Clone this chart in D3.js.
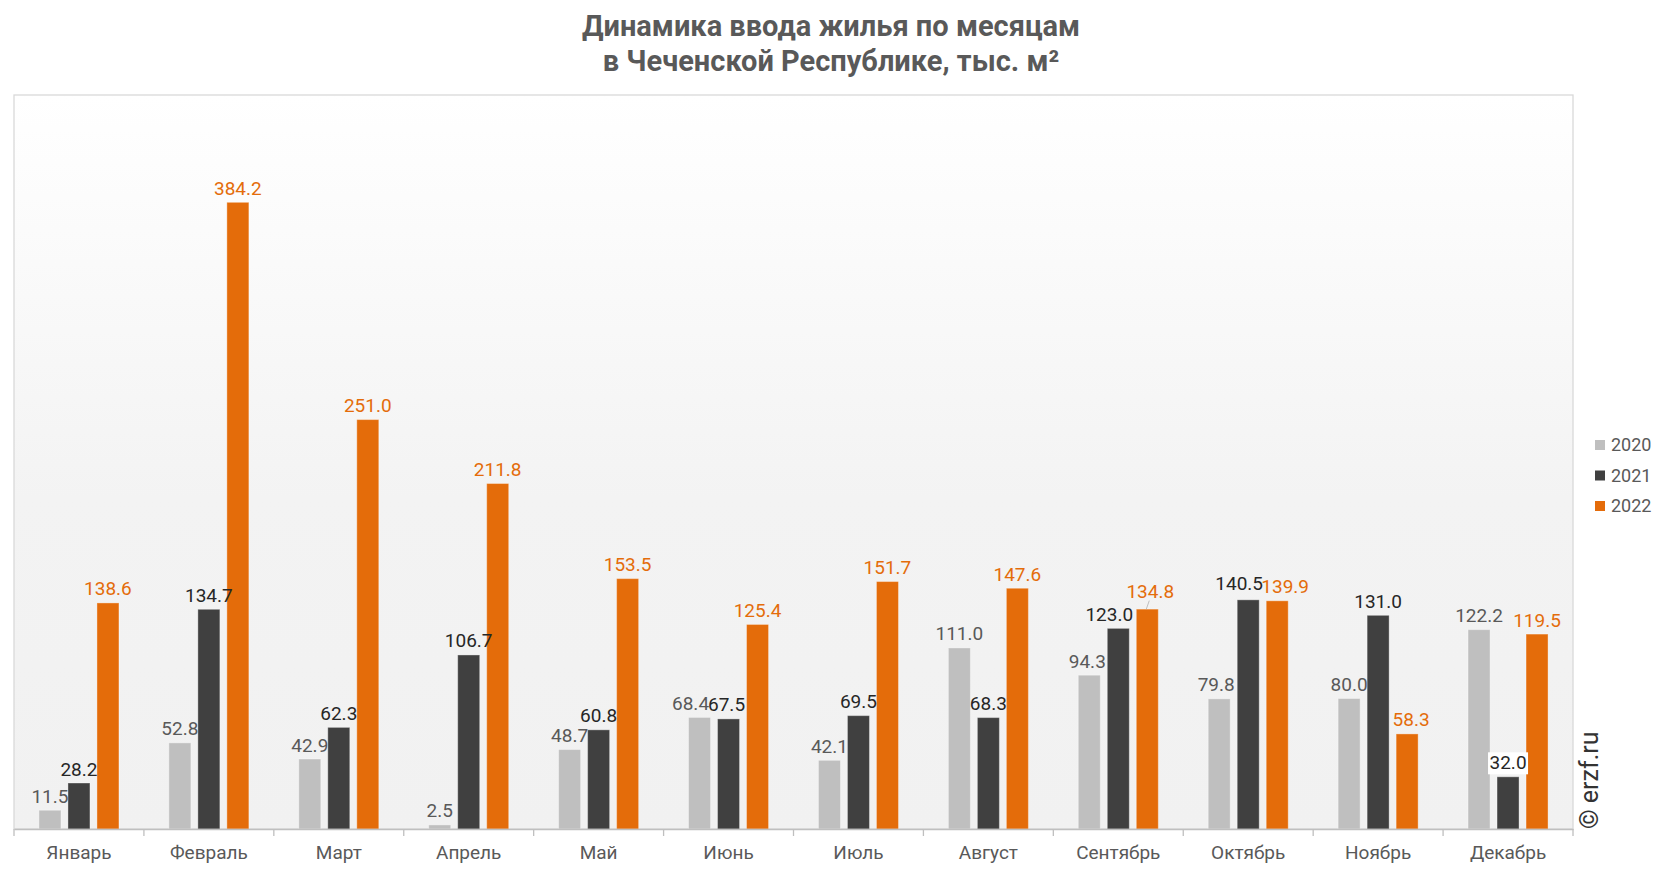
<!DOCTYPE html>
<html><head><meta charset="utf-8">
<script src="https://cdn.jsdelivr.net/npm/d3@7"></script>
<style>body{margin:0;background:#fff}svg{display:block;font-family:Roboto,"Noto Sans",sans-serif}</style>
</head><body><svg id="c" width="1666" height="872"></svg>
<script>
const months = ["Январь","Февраль","Март","Апрель","Май","Июнь","Июль","Август","Сентябрь","Октябрь","Ноябрь","Декабрь"];
const seriesNames = ["2020","2021","2022"];
const values2020 = [11.5,52.8,42.9,2.5,48.7,68.4,42.1,111.0,94.3,79.8,80.0,122.2];
const values2021 = [28.2,134.7,62.3,106.7,60.8,67.5,69.5,68.3,123.0,140.5,131.0,32.0];
const values2022 = [138.6,384.2,251.0,211.8,153.5,125.4,151.7,147.6,134.8,139.9,58.3,119.5];
const titleLines = ["Динамика ввода жилья по месяцам","в Чеченской Республике, тыс. м²"];

const barColors = ["#bfbfbf","#404040","#e46c0a"];
const labelColors = ["#595959","#262626","#e46c0a"];
// small label nudges (styling only): key "month|series" -> [dx, dy]
const labelNudge = {"5|0":[-9,0],"5|1":[-2,0],"8|1":[-9,0],"9|1":[-9,-2],"9|2":[8,0],"8|2":[3,-4],"10|2":[4,0],"8|0":[-2,0],"9|0":[-3,0]};

const svg = d3.select("#c");
const plot = {l:14, t:95, r:1573, b:829};

const defs = svg.append("defs");
const grad = defs.append("linearGradient").attr("id","bg").attr("x1",0).attr("y1",0).attr("x2",0).attr("y2",1);
grad.append("stop").attr("offset","0").attr("stop-color","#ffffff");
grad.append("stop").attr("offset","0.55").attr("stop-color","#f3f3f3");
grad.append("stop").attr("offset","1").attr("stop-color","#f1f1f1");

svg.append("rect").attr("x",plot.l).attr("y",plot.t).attr("width",plot.r-plot.l).attr("height",plot.b-plot.t)
  .attr("fill","url(#bg)").attr("stroke","#d9d9d9").attr("stroke-width",1.3);

const x = d3.scaleBand().domain(months).range([plot.l, plot.r]).paddingInner(0).paddingOuter(0);
const y = d3.scaleLinear().domain([0,450]).range([plot.b, plot.t]);
const barW = 22, step = 29;
const xs = d3.scaleBand().domain(seriesNames).range([-(barW+step*2)/2, (barW+step*2)/2]).paddingInner(7/29).paddingOuter(0);

const data = [values2020, values2021, values2022];

const g = svg.append("g");
data.forEach((vals, si) => {
  g.selectAll(null).data(vals).enter().append("rect")
    .attr("x",(d,i)=>x(months[i]) + x.bandwidth()/2 + xs(seriesNames[si]))
    .attr("y",d=>y(d))
    .attr("width",xs.bandwidth())
    .attr("height",d=>y(0)-y(d))
    .attr("fill",barColors[si])
    .attr("stroke","rgba(255,255,255,0.35)").attr("stroke-width",1);
});

// axis
const axisG = svg.append("g").attr("transform",`translate(0,${plot.b})`);
axisG.call(d3.axisBottom(x).tickSize(0).tickPadding(17));
axisG.select(".domain").attr("stroke","#bfbfbf").attr("stroke-width",1.5);
axisG.selectAll(".tick text").attr("font-size",19).attr("fill","#595959").attr("font-family","Roboto");
const bounds = months.map(m=>x(m)).concat([x.range()[1]]);
axisG.selectAll(".bt").data(bounds).enter().append("line")
  .attr("x1",d=>d).attr("x2",d=>d).attr("y1",0).attr("y2",7).attr("stroke","#bfbfbf").attr("stroke-width",1.3);

// labels
data.forEach((vals, si) => {
  vals.forEach((v,i)=>{
    const cx = x(months[i]) + x.bandwidth()/2 + xs(seriesNames[si]) + xs.bandwidth()/2;
    const n = labelNudge[i+"|"+si] || [0,0];
    const ty = y(v) - 7.5 + n[1];
    const txt = v.toFixed(1);
    if (i===11 && si===1) {
      svg.append("rect").attr("x",cx-20).attr("y",ty-17).attr("width",40).attr("height",22).attr("fill","#ffffff");
    }
    if (i===8 && si===2) {
      svg.append("line").attr("x1",cx-1).attr("y1",y(v)).attr("x2",cx+2).attr("y2",ty+3).attr("stroke","#bfbfbf").attr("stroke-width",1);
    }
    svg.append("text").attr("x",cx+n[0]).attr("y",ty).attr("text-anchor","middle")
      .attr("font-size",19).attr("fill",labelColors[si]).text(txt);
  });
});

// title
svg.append("g").selectAll("text").data(titleLines).enter().append("text")
  .attr("x",831).attr("y",(d,i)=>36+i*35).attr("text-anchor","middle")
  .attr("font-size",29).attr("font-weight","bold").attr("fill","#595959").text(d=>d);

// legend
const leg = svg.append("g");
seriesNames.forEach((s,i)=>{
  const cy = 445 + i*30.5;
  leg.append("rect").attr("x",1595).attr("y",cy-5).attr("width",10).attr("height",10).attr("fill",barColors[i]);
  leg.append("text").attr("x",1611).attr("y",cy).attr("dy","0.35em").attr("font-size",18).attr("fill","#595959").text(s);
});

// watermark
svg.append("text").attr("transform","translate(1598,829) rotate(-90)").attr("font-size",25)
  .attr("fill","#333333").text("© erzf.ru");
</script></body></html>
